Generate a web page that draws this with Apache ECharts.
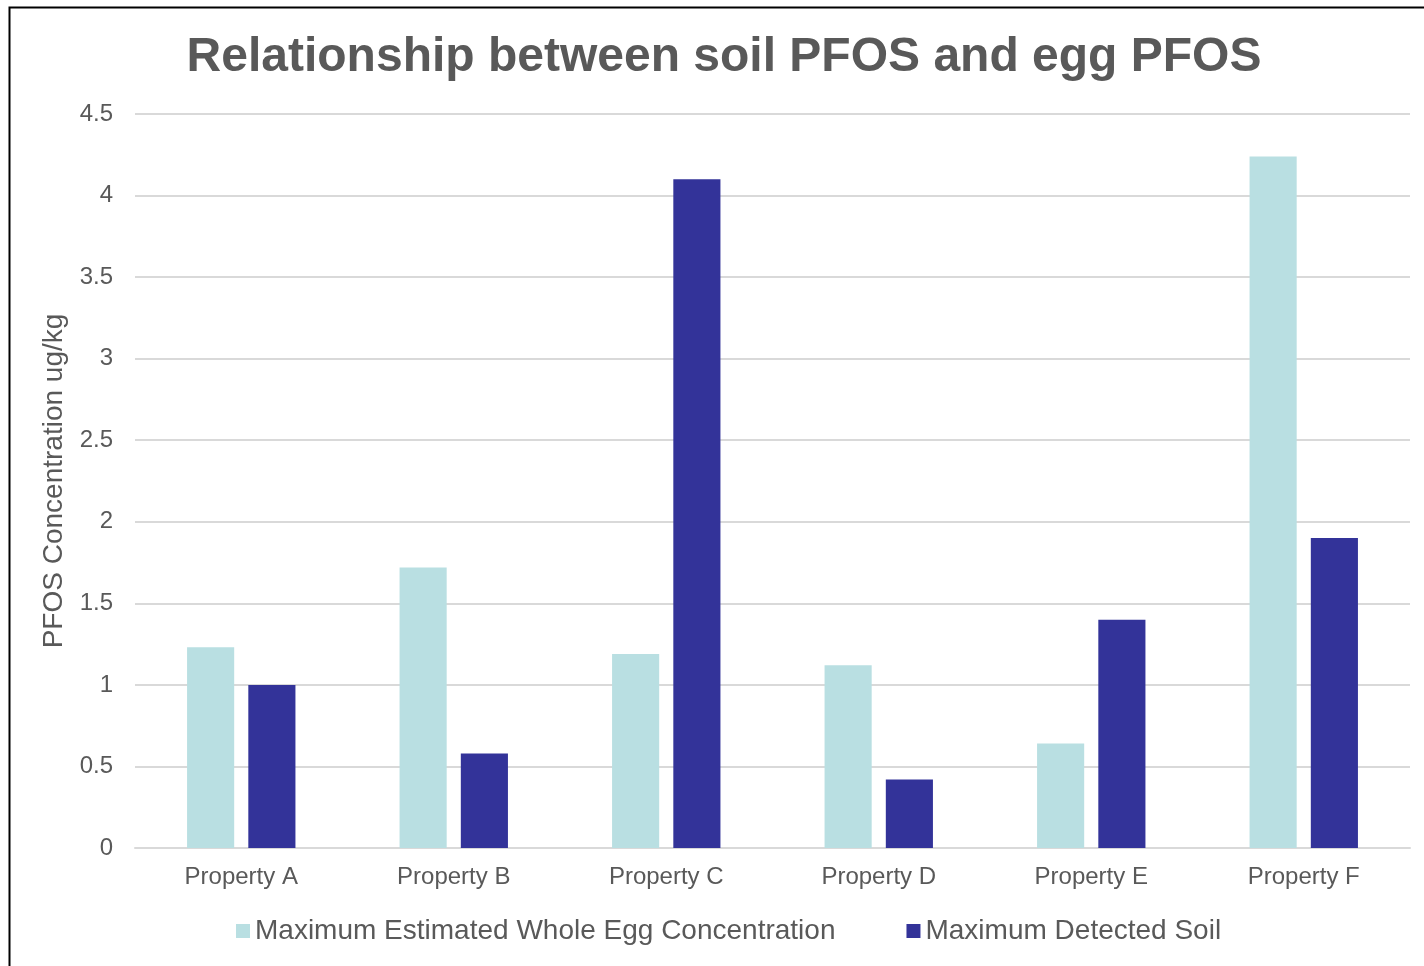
<!DOCTYPE html>
<html>
<head>
<meta charset="utf-8">
<script src="https://cdn.jsdelivr.net/npm/echarts@6/dist/echarts.min.js"></script>
<style>html,body{margin:0;padding:0;background:#fff}#c{width:1424px;height:966px}</style>
</head>
<body>
<div id="c"></div>
<script>
const categories = ['Property A','Property B','Property C','Property D','Property E','Property F'];
const eggValues = [1.23, 1.72, 1.19, 1.12, 0.64, 4.24];
const soilValues = [1.0, 0.58, 4.1, 0.42, 1.4, 1.9];
const seriesNames = ['Maximum Estimated Whole Egg Concentration', 'Maximum Detected Soil'];

const chart = echarts.init(document.getElementById('c'));
const font = 'Liberation Sans, Arial, sans-serif';
chart.setOption({
  animation: false,
  backgroundColor: '#fff',
  graphic: [{
    type: 'rect', left: 7, top: 5, z: 100,
    shape: {width: 1500, height: 1100},
    style: {fill: 'none', stroke: '#000', lineWidth: 2}
  }],
  title: {
    text: 'Relationship between soil PFOS and egg PFOS',
    left: 719, top: 29, textAlign: 'center',
    textStyle: {fontFamily: font, fontSize: 48, fontWeight: 'bold', color: '#595959'}
  },
  legend: {
    left: 236, top: 917, padding: 0,
    itemWidth: 14, itemHeight: 14, itemGap: 71,
    icon: 'rect',
    textStyle: {fontFamily: font, fontSize: 28, color: '#595959', padding: [0,0,0,0]},
    data: seriesNames
  },
  grid: {left: 135, right: 14, top: 114, bottom: 118, containLabel: false},
  xAxis: {
    type: 'category', data: categories,
    axisLine: {lineStyle: {color: '#d9d9d9', width: 2}},
    axisTick: {show: false},
    axisLabel: {fontFamily: font, fontSize: 24, color: '#595959', margin: 17}
  },
  yAxis: {
    type: 'value', min: 0, max: 4.5, interval: 0.5,
    name: 'PFOS Concentration ug/kg', nameLocation: 'middle', nameGap: 57,
    nameTextStyle: {fontFamily: font, fontSize: 28, color: '#595959'},
    axisLine: {show: false}, axisTick: {show: false},
    splitLine: {lineStyle: {color: '#d9d9d9', width: 2}},
    axisLabel: {fontFamily: font, fontSize: 24, color: '#595959', margin: 22}
  },
  series: [
    {name: seriesNames[0], type: 'bar', data: eggValues, itemStyle: {color: '#b9dfe2'}, barGap: '30%', barCategoryGap: '49%'},
    {name: seriesNames[1], type: 'bar', data: soilValues, itemStyle: {color: '#333399'}, barGap: '30%', barCategoryGap: '49%'}
  ]
});
</script>
</body>
</html>
